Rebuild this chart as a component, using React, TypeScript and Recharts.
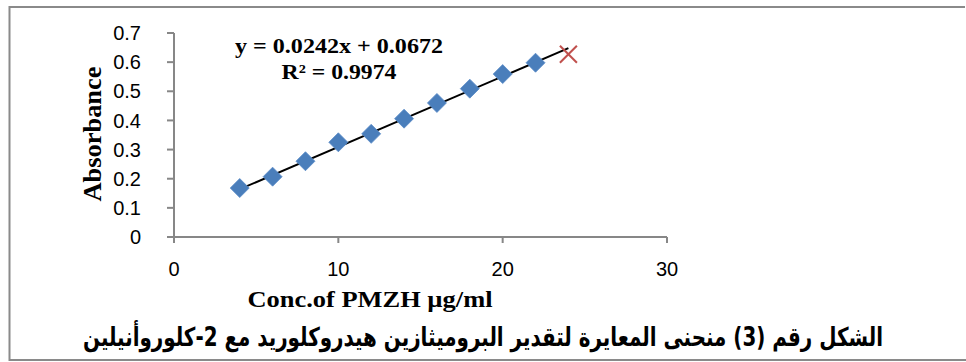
import React from "react";
import { ScatterChart, Scatter, XAxis, YAxis } from "recharts";

const concentrations = [4, 6, 8, 10, 12, 14, 16, 18, 20, 22];
const absorbances = [0.168, 0.207, 0.26, 0.325, 0.354, 0.406, 0.46, 0.509, 0.559, 0.598];
const outlierX = [24];
const outlierY = [0.627];
const trendX = [4, 24];
const trendY = [0.164, 0.648];
const xTicks = [0, 10, 20, 30];
const yTicks = [0, 0.1, 0.2, 0.3, 0.4, 0.5, 0.6, 0.7];

const equationText = "y = 0.0242x + 0.0672";
const r2Text = "R² = 0.9974";
const xTitle = "Conc.of PMZH µg/ml";
const yTitle = "Absorbance";
const caption = "الشكل رقم (3) منحنى المعايرة لتقدير البروميثازين هيدروكلوريد مع 2-كلوروأنيلين";

const points = concentrations.map((x, i) => ({ x, y: absorbances[i] }));
const outliers = outlierX.map((x, i) => ({ x, y: outlierY[i] }));
const trend = trendX.map((x, i) => ({ x, y: trendY[i] }));

const AXIS = "#878787";

const Diamond = (props: any) => {
  const { cx, cy } = props;
  const r = 9.5;
  return (
    <polygon
      points={`${cx},${cy - r} ${cx + r},${cy} ${cx},${cy + r} ${cx - r},${cy}`}
      fill="#4A7EBB"
      stroke="#5B8CC8"
      strokeWidth={0.8}
    />
  );
};

const Cross = (props: any) => {
  const { cx, cy } = props;
  const r = 8.5;
  return (
    <g stroke="#C0504D" strokeWidth={2}>
      <line x1={cx - r} y1={cy - r} x2={cx + r} y2={cy + r} />
      <line x1={cx - r} y1={cy + r} x2={cx + r} y2={cy - r} />
    </g>
  );
};

const NoShape = () => <g />;

const tickStyle = { fontFamily: "'Liberation Sans', Arial, sans-serif", fontSize: 20, fill: "#000" };

export default function App() {
  return (
    <div style={{ position: "absolute", left: 0, top: 0, width: 966, height: 362, background: "#fff" }}>
      <ScatterChart
        width={966}
        height={362}
        margin={{ top: 33, right: 299, left: 0, bottom: 65 }}
      >
        <XAxis
          type="number"
          dataKey="x"
          domain={[0, 30]}
          ticks={xTicks}
          height={60}
          stroke={AXIS}
          strokeWidth={2}
          tickSize={6}
          tickMargin={19}
          tick={tickStyle}
          tickLine={{ stroke: AXIS, strokeWidth: 2 }}
          allowDataOverflow
        />
        <YAxis
          type="number"
          dataKey="y"
          domain={[0, 0.7]}
          ticks={yTicks}
          width={174}
          stroke={AXIS}
          strokeWidth={2}
          tickSize={7}
          tickMargin={26}
          tick={tickStyle}
          tickLine={{ stroke: AXIS, strokeWidth: 2 }}
          allowDataOverflow
        />
        <Scatter
          data={trend}
          line={{ stroke: "#000", strokeWidth: 2 }}
          shape={NoShape}
          isAnimationActive={false}
        />
        <Scatter data={points} shape={Diamond} isAnimationActive={false} />
        <Scatter data={outliers} shape={Cross} isAnimationActive={false} />
      </ScatterChart>
      <svg
        width={966}
        height={362}
        style={{ position: "absolute", left: 0, top: 0, pointerEvents: "none" }}
      >
        <polyline points="965,7 9.5,7 9.5,360 966,360" fill="none" stroke="#8a8a8a" strokeWidth={2} />
        <g fontFamily="'Liberation Serif', 'Times New Roman', serif" fontWeight="bold" fill="#000">
          <text x={339} y={53} fontSize={22} textAnchor="middle" textLength={208} lengthAdjust="spacingAndGlyphs">
            {equationText}
          </text>
          <text x={339} y={79} fontSize={22} textAnchor="middle" textLength={115} lengthAdjust="spacingAndGlyphs">
            {r2Text}
          </text>
          <text x={370} y={307} fontSize={23} textAnchor="middle" textLength={245} lengthAdjust="spacingAndGlyphs">
            {xTitle}
          </text>
          <text
            x={0}
            y={0}
            fontSize={25}
            textAnchor="middle"
            textLength={135}
            lengthAdjust="spacingAndGlyphs"
            transform="translate(101,134) rotate(-90)"
          >
            {yTitle}
          </text>
        </g>
        <text
          x={483}
          y={346}
          fontFamily="'DejaVu Sans', sans-serif"
          fontWeight="bold"
          fontSize={26}
          textAnchor="middle"
          direction="rtl"
          textLength={800}
          lengthAdjust="spacingAndGlyphs"
          fill="#000"
        >
          {caption}
        </text>
      </svg>
    </div>
  );
}
